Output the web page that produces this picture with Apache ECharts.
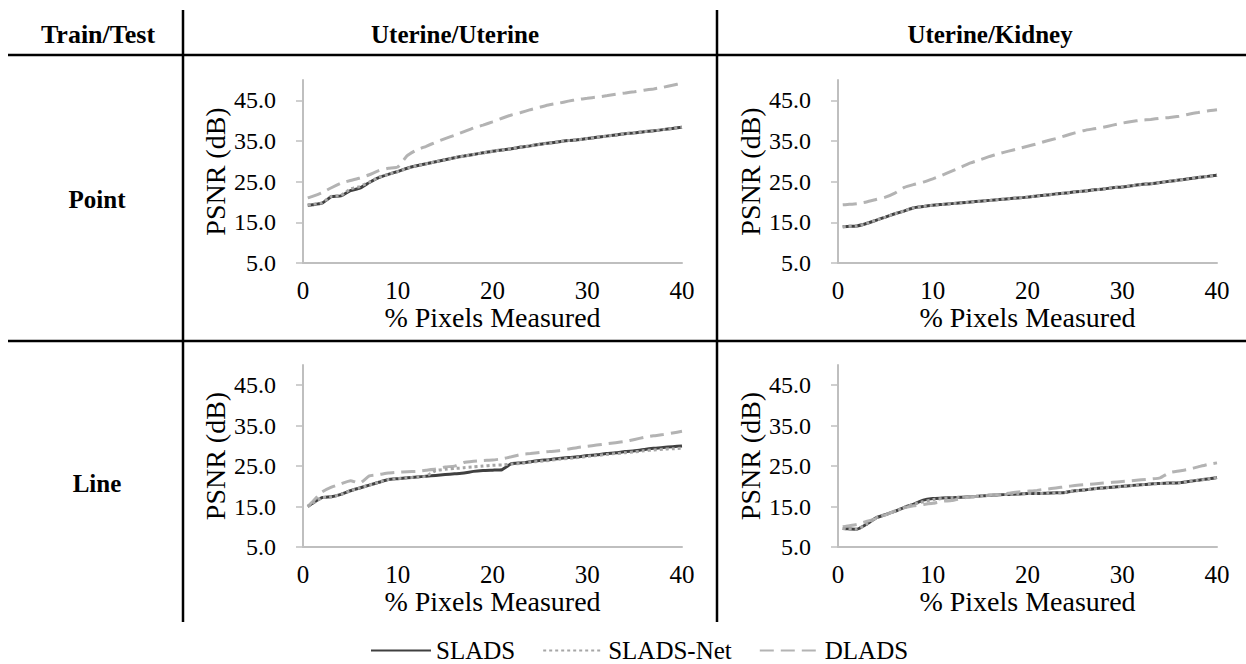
<!DOCTYPE html>
<html>
<head>
<meta charset="utf-8">
<script src="https://cdn.jsdelivr.net/npm/echarts@6/dist/echarts.min.js"></script>
<style>
html,body{margin:0;padding:0;background:#fff;}
#chart{width:1246px;height:664px;}
</style>
</head>
<body>
<div id="chart"></div>
<script>
// ---- data ----
const xPct = [0.5,1,2,3,4,5,6,7,8,9,10,11,12,13,14,15,16,17,18,19,20,21,22,23,24,25,26,27,28,29,30,31,32,33,34,35,36,37,38,39,40];
const yTicks = [5,15,25,35,45];
const xTicks = [0,10,20,30,40];
const seriesNames = ['SLADS','SLADS-Net','DLADS'];
const rowLabels = ['Point','Line'];
const colLabels = ['Uterine/Uterine','Uterine/Kidney'];
const cornerLabel = 'Train/Test';

// Point, Uterine/Uterine
const pointUU_SLADS    = [19.2,19.3,19.7,21.3,21.5,22.8,23.4,24.8,26.0,26.8,27.5,28.3,28.9,29.4,29.9,30.4,30.9,31.3,31.7,32.1,32.5,32.8,33.1,33.5,33.8,34.2,34.5,34.8,35.1,35.3,35.6,35.9,36.2,36.5,36.8,37.0,37.3,37.5,37.8,38.1,38.4];
const pointUU_SLADSNet = [19.3,19.4,19.8,21.4,21.6,23.2,23.8,24.9,26.1,26.8,27.5,28.3,28.9,29.4,29.9,30.4,30.9,31.3,31.7,32.1,32.5,32.8,33.1,33.5,33.8,34.2,34.5,34.8,35.1,35.3,35.6,35.9,36.2,36.5,36.8,37.0,37.3,37.5,37.8,38.1,38.4];
const pointUU_DLADS    = [21.0,21.4,22.3,23.5,24.6,25.3,25.9,26.7,27.7,28.3,28.6,31.4,32.8,33.7,34.7,35.6,36.4,37.3,38.2,38.9,39.7,40.6,41.4,42.0,42.7,43.3,43.9,44.3,44.8,45.2,45.5,45.8,46.1,46.5,46.8,47.1,47.5,47.8,48.2,48.7,49.2];

// Point, Uterine/Kidney
const pointUK_SLADS    = [13.9,14.0,14.1,14.7,15.5,16.3,17.1,17.8,18.6,18.9,19.2,19.4,19.6,19.8,20.0,20.2,20.4,20.6,20.8,21.0,21.2,21.5,21.7,22.0,22.2,22.5,22.7,23.0,23.2,23.5,23.7,24.0,24.3,24.5,24.8,25.1,25.4,25.7,26.0,26.3,26.6];
const pointUK_SLADSNet = [13.9,14.0,14.1,14.7,15.5,16.3,17.1,17.8,18.6,18.9,19.2,19.4,19.6,19.8,20.0,20.2,20.4,20.6,20.8,21.0,21.2,21.5,21.7,22.0,22.2,22.5,22.7,23.0,23.2,23.5,23.7,24.0,24.3,24.5,24.8,25.1,25.4,25.7,26.0,26.3,26.6];
const pointUK_DLADS    = [19.3,19.4,19.6,20.0,20.6,21.2,22.2,23.6,24.3,24.9,25.7,26.6,27.6,28.6,29.6,30.4,31.2,31.9,32.5,33.1,33.7,34.3,35.0,35.6,36.3,37.0,37.6,38.0,38.4,38.9,39.4,39.8,40.1,40.3,40.6,40.8,41.1,41.6,42.0,42.4,42.7];

// Line, Uterine/Uterine
const lineUU_SLADS     = [15.0,15.8,17.2,17.4,18.0,18.9,19.6,20.3,21.0,21.7,21.9,22.1,22.3,22.5,22.7,22.9,23.1,23.3,23.7,23.9,24.0,24.1,25.6,25.8,26.1,26.4,26.6,26.9,27.1,27.3,27.6,27.8,28.1,28.3,28.6,28.8,29.1,29.4,29.6,29.8,30.0];
const lineUU_SLADSNet  = [15.0,15.8,17.2,17.4,18.0,18.9,19.6,20.3,21.0,21.7,21.9,22.1,22.3,22.5,23.9,24.2,24.4,24.6,24.8,25.0,25.2,25.3,25.5,25.7,26.0,26.2,26.4,26.7,26.9,27.1,27.4,27.6,27.9,28.1,28.3,28.5,28.8,29.0,29.2,29.3,29.4];
const lineUU_DLADS     = [15.0,16.2,18.6,19.8,20.6,21.4,20.8,22.6,22.9,23.3,23.5,23.6,23.7,24.0,24.3,24.8,25.0,25.9,26.2,26.4,26.5,26.8,27.3,27.9,28.1,28.4,28.6,28.8,29.2,29.6,29.9,30.2,30.5,30.8,31.1,31.6,32.1,32.5,32.8,33.2,33.6];

// Line, Uterine/Kidney
const lineUK_SLADS     = [9.6,9.5,9.4,10.6,12.2,13.0,13.8,14.8,15.6,16.6,17.0,17.1,17.2,17.3,17.4,17.6,17.8,17.9,18.0,18.1,18.2,18.2,18.3,18.4,18.5,18.9,19.1,19.4,19.6,19.8,20.0,20.2,20.4,20.6,20.7,20.8,20.9,21.2,21.5,21.8,22.2];
const lineUK_SLADSNet  = [9.6,9.5,9.4,10.6,12.2,13.0,13.8,14.8,15.6,16.2,16.7,17.0,17.2,17.3,17.4,17.6,17.8,17.9,18.0,18.1,18.2,18.2,18.3,18.4,18.5,18.9,19.1,19.4,19.6,19.8,20.0,20.2,20.4,20.6,20.7,20.8,20.9,21.2,21.5,21.8,22.2];
const lineUK_DLADS     = [10.0,10.2,10.6,11.3,12.0,12.9,13.9,14.7,15.2,15.5,15.8,16.3,16.5,17.0,17.4,17.6,17.8,18.0,18.3,18.6,18.8,19.0,19.3,19.6,19.9,20.2,20.4,20.6,20.8,21.0,21.2,21.4,21.6,21.8,22.1,23.4,23.8,24.2,24.8,25.4,25.8];

const panels = [
  [pointUU_SLADS, pointUU_SLADSNet, pointUU_DLADS],
  [pointUK_SLADS, pointUK_SLADSNet, pointUK_DLADS],
  [lineUU_SLADS, lineUU_SLADSNet, lineUU_DLADS],
  [lineUK_SLADS, lineUK_SLADSNet, lineUK_DLADS]
];

// ---- layout / styles ----
const FONT = 'Liberation Serif';
const gridPos = [
  {left: 303, top: 80, width: 379, height: 183},
  {left: 838, top: 80, width: 379, height: 183},
  {left: 303, top: 365, width: 379, height: 182},
  {left: 838, top: 365, width: 379, height: 182}
];
const axisGray = '#bfbfbf';
const styles = [
  {color: '#404040', width: 3, type: 'solid'},
  {color: '#a6a6a6', width: 3, type: [3, 3]},
  {color: '#b3b3b3', width: 3, type: [14, 7]}
];

const pairs = (ys) => xPct.map((x, i) => [x, ys[i]]);

const grid = gridPos.map(g => Object.assign({containLabel: false}, g));
const xAxis = gridPos.map((g, i) => ({
  type: 'value', gridIndex: i, min: 0, max: 40, interval: 10,
  name: '% Pixels Measured', nameLocation: 'middle', nameGap: 39,
  nameTextStyle: {fontFamily: FONT, fontSize: 28, color: '#000'},
  axisLine: {show: true, lineStyle: {color: axisGray, width: 2}},
  axisTick: {show: false},
  splitLine: {show: false},
  axisLabel: {fontFamily: FONT, fontSize: 25, color: '#000', margin: 15,
              customValues: xTicks}
}));
const yAxis = gridPos.map((g, i) => ({
  type: 'value', gridIndex: i, min: 5, max: 50,
  name: 'PSNR (dB)', nameLocation: 'middle', nameGap: 74,
  nameTextStyle: {fontFamily: FONT, fontSize: 28, color: '#000'},
  axisLine: {show: true, lineStyle: {color: axisGray, width: 2}},
  axisTick: {show: true, length: 7, lineStyle: {color: axisGray, width: 1.5}, customValues: yTicks},
  splitLine: {show: false},
  axisLabel: {fontFamily: FONT, fontSize: 24, color: '#000', margin: 27,
              customValues: yTicks, formatter: v => v.toFixed(1)}
}));

const series = [];
panels.forEach((p, pi) => {
  p.forEach((ys, si) => {
    series.push({
      name: seriesNames[si], type: 'line', xAxisIndex: pi, yAxisIndex: pi,
      data: pairs(ys), symbol: 'none', showSymbol: false, smooth: 0.15,
      lineStyle: {color: styles[si].color, width: styles[si].width, type: styles[si].type, cap: 'butt'},
      itemStyle: {color: styles[si].color},
      z: si === 1 ? 4 : 3, animation: false
    });
  });
});

const lineColor = '#000';
const hdr = (text, x, y, size) => ({
  type: 'text', x, y,
  style: {text, fontFamily: FONT, fontSize: size, fontWeight: 'bold', fill: '#000', align: 'center', verticalAlign: 'middle'}
});
const graphic = [
  {type: 'line', shape: {x1: 8, y1: 55, x2: 1246, y2: 55}, style: {stroke: lineColor, lineWidth: 2.5}},
  {type: 'line', shape: {x1: 8, y1: 341, x2: 1246, y2: 341}, style: {stroke: lineColor, lineWidth: 2.5}},
  {type: 'line', shape: {x1: 183, y1: 10, x2: 183, y2: 622}, style: {stroke: lineColor, lineWidth: 2.5}},
  {type: 'line', shape: {x1: 717, y1: 10, x2: 717, y2: 622}, style: {stroke: lineColor, lineWidth: 2.5}},
  hdr(cornerLabel, 98, 34, 26),
  hdr(colLabels[0], 455, 34, 25),
  hdr(colLabels[1], 990, 34, 25),
  hdr(rowLabels[0], 97, 199, 25),
  hdr(rowLabels[1], 97, 483, 25)
];

const chart = echarts.init(document.getElementById('chart'), null, {renderer: 'svg'});
chart.setOption({
  backgroundColor: '#fff',
  animation: false,
  grid, xAxis, yAxis, series, graphic,
  legend: {
    data: seriesNames,
    left: 370, top: 638,
    itemWidth: 60, itemHeight: 14, itemGap: 27,
    itemStyle: {opacity: 0, borderWidth: 0},
    textStyle: {fontFamily: FONT, fontSize: 25, lineHeight: 25, color: '#000'},
    padding: 0
  }
});
</script>
</body>
</html>
